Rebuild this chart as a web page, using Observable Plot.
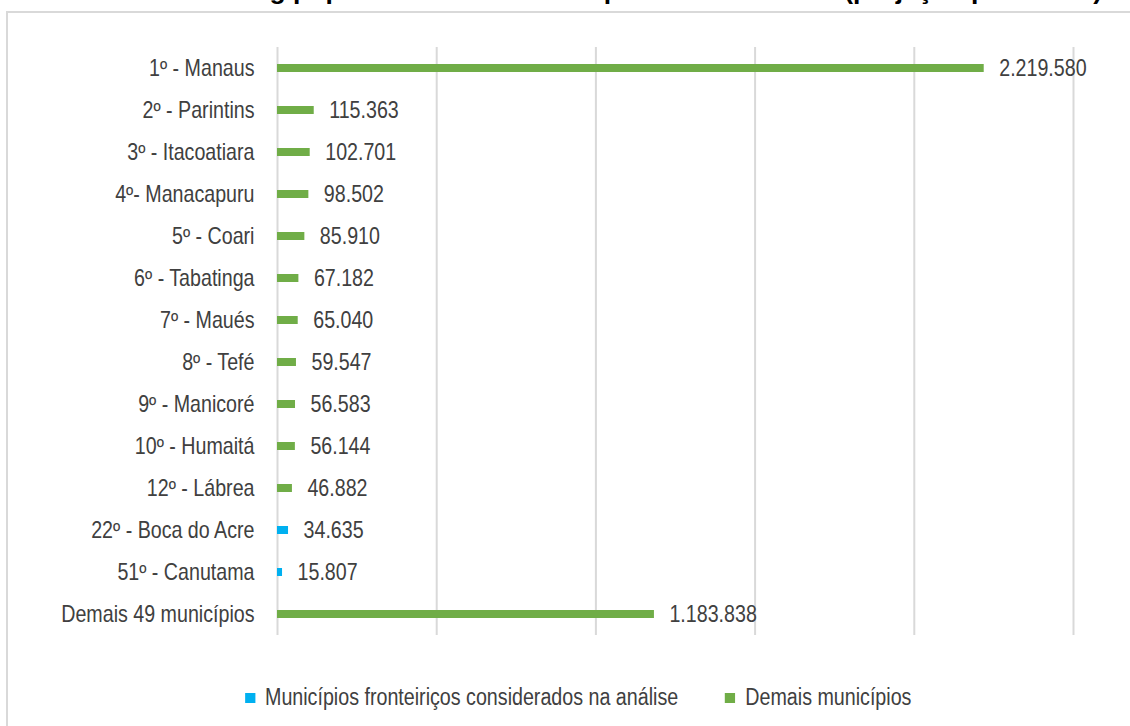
<!DOCTYPE html>
<html>
<head>
<meta charset="utf-8">
<script src="https://cdn.jsdelivr.net/npm/d3@7"></script>
<script src="https://cdn.jsdelivr.net/npm/@observablehq/plot@0.6"></script>
<style>
  html, body { margin: 0; padding: 0; background: #ffffff; }
  body { width: 1130px; height: 726px; overflow: hidden; position: relative;
         font-family: "Liberation Sans", Arial, sans-serif; color: #404040; }
  #frame { position: absolute; left: 6px; top: 11px; width: 1300px; height: 900px; border: 2px solid #d9d9d9; box-sizing: border-box; }
  #title { position: absolute; right: 28px; top: -23px; font-size: 26.5px; line-height: 26px; font-weight: bold; color: #000; white-space: nowrap; }
  #chart { position: absolute; left: 0; top: 0; }
  #legend { position: absolute; left: 23px; top: 681px; width: 1130px; transform: scaleX(0.855); transform-origin: 565px 50%; }
</style>
</head>
<body>
<div id="frame"></div>
<div id="title">Ranking populacional dos municípios do Amazonas (projeção para 2020)</div>
<div id="chart"></div>
<div id="legend"></div>
<script>
const categories = ["1º - Manaus", "2º - Parintins", "3º - Itacoatiara", "4º- Manacapuru", "5º - Coari",
  "6º - Tabatinga", "7º - Maués", "8º - Tefé", "9º - Manicoré", "10º - Humaitá", "12º - Lábrea",
  "22º - Boca do Acre", "51º - Canutama", "Demais 49 municípios"];
const values = [2219580, 115363, 102701, 98502, 85910, 67182, 65040, 59547, 56583, 56144, 46882, 34635, 15807, 1183838];
const seriesNames = ["Municípios fronteiriços considerados na análise", "Demais municípios"];
const seriesOf = ["Demais municípios", "Demais municípios", "Demais municípios", "Demais municípios", "Demais municípios",
  "Demais municípios", "Demais municípios", "Demais municípios", "Demais municípios", "Demais municípios", "Demais municípios",
  "Municípios fronteiriços considerados na análise", "Municípios fronteiriços considerados na análise", "Demais municípios"];
const seriesColors = ["#00B0F0", "#70AD47"];
const xTicks = [0, 500000, 1000000, 1500000, 2000000, 2500000];

const data = categories.map((c, i) => ({cat: c, value: values[i], group: seriesOf[i]}));
const fmt = d3.formatLocale({decimal: ",", thousands: ".", grouping: [3], currency: ["R$", ""]}).format(",d");
const FONT = '"Liberation Sans", Arial, sans-serif';
const NARROW = 0.855;

const chart = Plot.plot({
  width: 1130,
  height: 650,
  marginLeft: 277,
  marginRight: 57,
  marginTop: 47,
  marginBottom: 15,
  x: {domain: [0, 2500000], axis: null},
  y: {domain: categories, padding: 0, round: false, axis: null},
  color: {domain: seriesNames, range: seriesColors},
  style: {fontFamily: FONT, fontSize: "23px", color: "#404040", background: "transparent", overflow: "visible"},
  marks: [
    Plot.ruleX(xTicks, {stroke: "#d9d9d9", strokeWidth: 2, strokeOpacity: 1}),
    Plot.barX(data, {x: "value", y: "cat", fill: "group", insetTop: 17, insetBottom: 17}),
    Plot.text(data, {x: "value", y: "cat", text: d => fmt(d.value), dx: 15, textAnchor: "start", fill: "#404040", fontSize: 23}),
    Plot.axisY({tickSize: 0, tickPadding: 23, fontSize: 23, label: null, fill: "#404040"})
  ]
});
// condensed look of the original typeface: narrow each label about its anchor
chart.querySelectorAll("text").forEach(t => {
  const tr = t.getAttribute("transform") || "";
  t.setAttribute("transform", (tr + ` scale(${NARROW},1)`).trim());
});
document.getElementById("chart").appendChild(chart);

const legend = Plot.legend({
  color: {domain: seriesNames, range: seriesColors},
  swatchWidth: 12,
  swatchHeight: 10,
  style: {fontFamily: FONT, fontSize: "23px", color: "#404040", justifyContent: "center", display: "flex", gap: "32px"}
});
document.getElementById("legend").appendChild(legend);
</script>
</body>
</html>
